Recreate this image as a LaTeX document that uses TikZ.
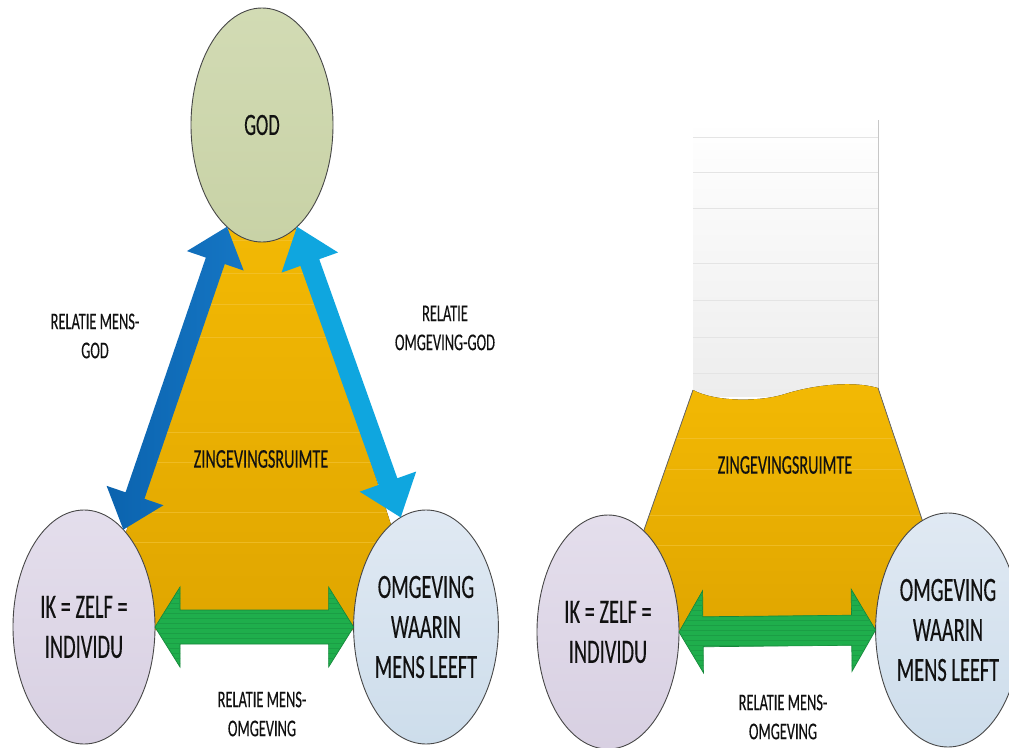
\documentclass[tikz,border=0pt]{standalone}
\usepackage{fontspec}
\newfontfamily\cf{Carlito}[FakeStretch=0.6,FakeBold=0.25]
\usetikzlibrary{shapes.geometric,calc,shadings}
\definecolor{txt}{HTML}{111111}
\definecolor{orTop}{HTML}{F3B904}
\definecolor{orBot}{HTML}{E0A600}
\definecolor{orLine}{HTML}{F4C53A}
\definecolor{godTop}{HTML}{D2DBB4}
\definecolor{godBot}{HTML}{C8D2A6}
\definecolor{ikTop}{HTML}{E4DEEC}
\definecolor{ikBot}{HTML}{D8D0E2}
\definecolor{omTop}{HTML}{E0E9F3}
\definecolor{omBot}{HTML}{CDDDEB}
\definecolor{dblue}{HTML}{0B63AE}
\definecolor{dblueR}{HTML}{1576C4}
\definecolor{lblue}{HTML}{0FA6DF}
\definecolor{grn}{HTML}{1FAE4C}
\definecolor{grnDark}{HTML}{16863A}
\definecolor{glassBot}{HTML}{EDEDED}
\definecolor{glassLine}{HTML}{E4E4E4}
\newcommand\dbl[5]{(#1) -- ($(#1)!#5!(#2)!#4!90:(#2)$) -- ($(#1)!#5!(#2)!#3!90:(#2)$) -- ($(#2)!#5!(#1)!#3!-90:(#1)$) -- ($(#2)!#5!(#1)!#4!-90:(#1)$) -- (#2) -- ($(#2)!#5!(#1)!#4!90:(#1)$) -- ($(#2)!#5!(#1)!#3!90:(#1)$) -- ($(#1)!#5!(#2)!#3!-90:(#2)$) -- ($(#1)!#5!(#2)!#4!-90:(#2)$) -- cycle}
\begin{document}
\begin{tikzpicture}[x=1pt,y=-1pt,
  ell/.style={ellipse, draw=black!72, line width=0.9pt, minimum width=142pt, minimum height=234pt, inner sep=0pt, outer sep=0pt, align=center, text=txt},
  big/.style={font=\cf\fontsize{34}{40}\selectfont},
  mid/.style={font=\cf\fontsize{31}{38}\selectfont},
  zin/.style={font=\cf\fontsize{27}{32}\selectfont, text=txt},
  lbl/.style={font=\cf\fontsize{24}{29}\selectfont, align=center, text=txt, inner sep=0pt},
  orange/.style={top color=orTop, bottom color=orBot},
  edge/.style={draw=black!60, line width=0.8pt},
  garrow/.style={fill=grn, draw=grnDark, line width=0.7pt}
]
\useasboundingbox (0,0) rectangle (1009,747);
\fill[white] (0,0) rectangle (1009,747);

% ---------------- left diagram ----------------
\fill[orange] (233,215) -- (291,215) -- (425,630) -- (93,630) -- cycle;
\begin{scope}
  \clip (233,215) -- (291,215) -- (425,630) -- (93,630) -- cycle;
  \foreach \y in {240,273,304,337,432,462,512,542}
    \draw[orLine, line width=0.5pt, opacity=0.6] (80,\y) -- (440,\y);
\end{scope}

\node[ell, top color=godTop, bottom color=godBot, mid] (god) at (262,125) {GOD};
\node[ell, top color=ikTop, bottom color=ikBot, big] (ik) at (84,627) {IK = ZELF =\\INDIVIDU};
\node[ell, top color=omTop, bottom color=omBot, big] (omg) at (426,627) {OMGEVING\\WAARIN\\MENS LEEFT};

\path[left color=dblue, right color=dblueR] \dbl{ik.68}{god.251}{10pt}{30pt}{36pt};
\path[fill=lblue] \dbl{omg.103}{god.289}{10pt}{30pt}{38pt};
\path[garrow] \dbl{ik.east}{omg.west}{17pt}{40pt}{25pt};
\begin{scope}
  \clip \dbl{ik.east}{omg.west}{17pt}{40pt}{25pt};
  \foreach \y in {588,593,...,668}
    \draw[grnDark!40!grn, line width=0.3pt] (150,\y) -- (360,\y);
\end{scope}

\node[zin] (zr1) at (261,459) {ZINGEVINGSRUIMTE};
\node[lbl] (lmg) at (95,336) {RELATIE MENS-\\GOD};
\node[lbl] (log) at (445,328) {RELATIE\\OMGEVING-GOD};
\node[lbl] (lmo) at (262,714) {RELATIE MENS-\\OMGEVING};

% ---------------- right diagram ----------------
\fill[top color=white, bottom color=glassBot] (693,120) rectangle (878,396);
\foreach \y in {137,172,208,263,300,337,373}
  \draw[glassLine, line width=0.8pt] (693,\y) -- (878,\y);
\draw[black!22, line width=1pt] (878,120) -- (878,390);

\fill[orange] (693,390) .. controls (715,402) and (760,402) .. (785,394)
  .. controls (810,386) and (850,380) .. (878,388) -- (959,630) -- (609,630) -- cycle;
\begin{scope}
  \clip (693,390) .. controls (715,402) and (760,402) .. (785,394)
  .. controls (810,386) and (850,380) .. (878,388) -- (959,630) -- (609,630) -- cycle;
  \foreach \y in {438,469,515,545}
    \draw[orLine, line width=0.5pt, opacity=0.6] (600,\y) -- (960,\y);
\end{scope}
\draw[edge] (693,390) -- (609,630);
\draw[edge] (878,388) -- (959,630);

\node[ell, top color=ikTop, bottom color=ikBot, big] (ik2) at (608,632) {IK = ZELF =\\INDIVIDU};
\node[ell, top color=omTop, bottom color=omBot, big] (omg2) at (948,630) {OMGEVING\\WAARIN\\MENS LEEFT};

\path[garrow] \dbl{ik2.east}{omg2.west}{15pt}{41pt}{24pt};
\begin{scope}
  \clip \dbl{ik2.east}{omg2.west}{15pt}{41pt}{24pt};
  \foreach \y in {590,595,...,672}
    \draw[grnDark!40!grn, line width=0.3pt] (670,\y) -- (890,\y);
\end{scope}

\node[zin] (zr2) at (785,465) {ZINGEVINGSRUIMTE};
\node[lbl] (lmo2) at (783,717) {RELATIE MENS-\\OMGEVING};
\end{tikzpicture}
\end{document}
